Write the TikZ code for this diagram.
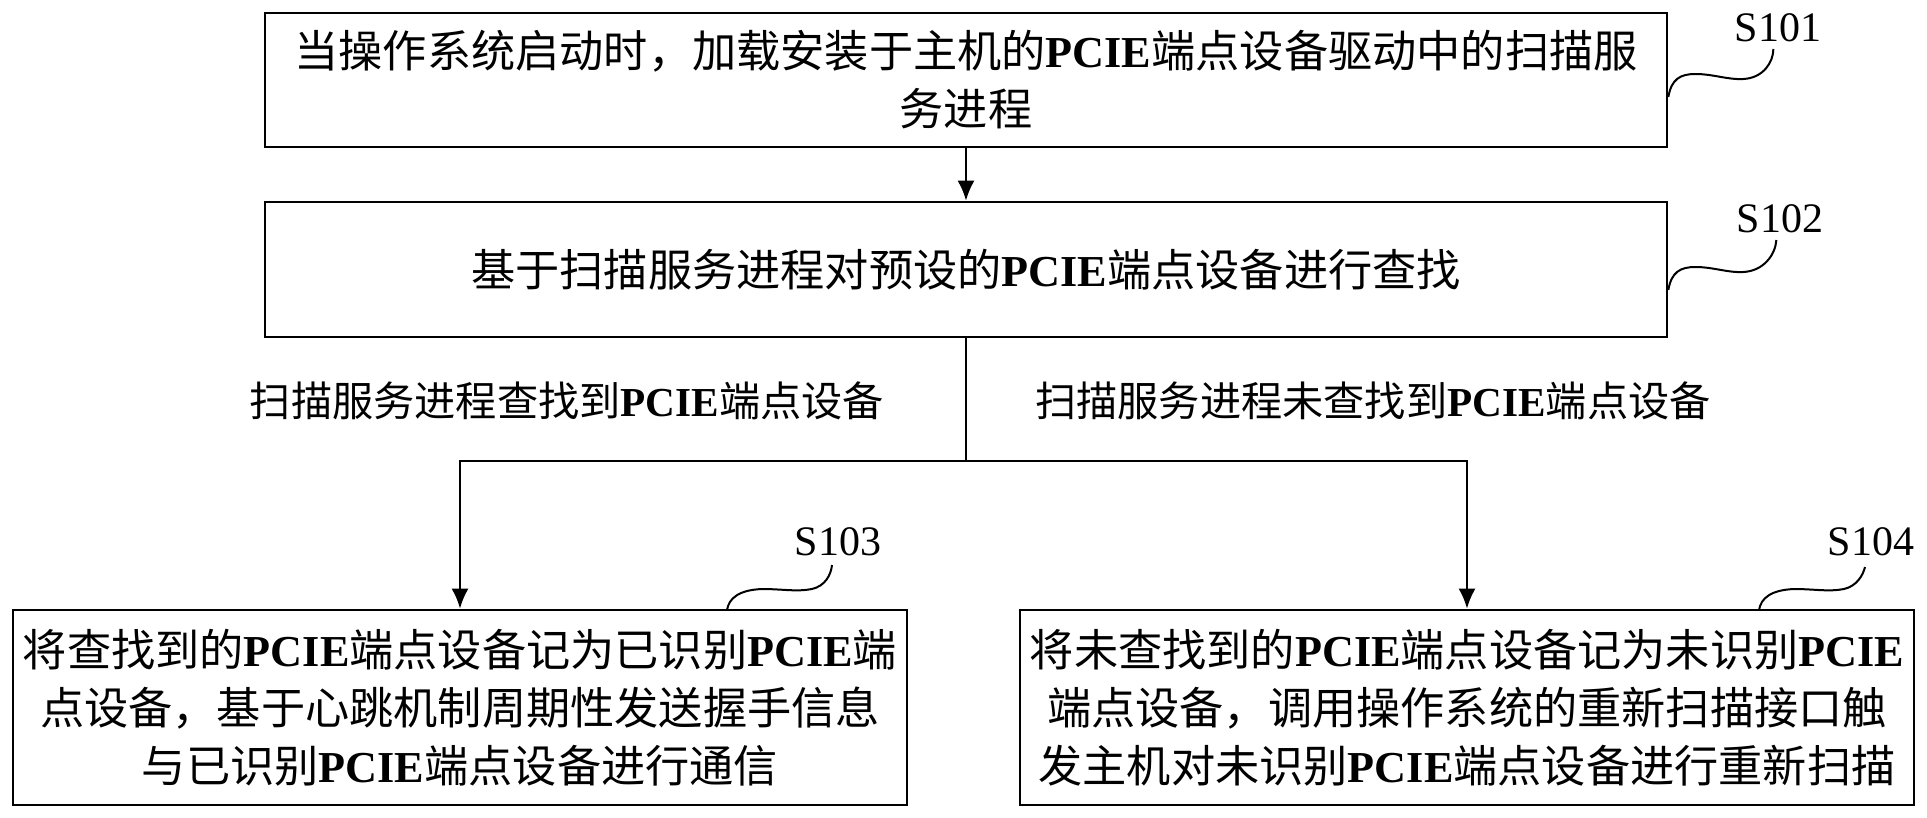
\documentclass[tikz,border=0pt]{standalone}
\usepackage{fontspec}
\setmainfont{Liberation Serif}
\newfontfamily\cjkfont{Noto Sans CJK SC}
\usetikzlibrary{arrows.meta}
\newcommand\pcie{{\rmfamily\bfseries PCIE}}
\tikzset{
  stepbox/.style={draw, line width=2.7pt, inner sep=0pt, align=center,
    font=\cjkfont\fontsize{44.2}{58}\selectfont},
  condlabel/.style={inner sep=0pt, font=\cjkfont\fontsize{41.2}{50}\selectfont},
  steplabel/.style={inner sep=0pt, font=\fontsize{42}{50}\selectfont},
  conn/.style={line width=2.2pt},
  arr/.style={line width=2.2pt, -{Latex[length=20pt,width=17pt]}},
  squig/.style={line width=2pt},
}
\begin{document}
\begin{tikzpicture}[x=1pt,y=-1pt]
\useasboundingbox (0,0) rectangle (1927,817);
% boxes
\node[stepbox, minimum width=1402pt, minimum height=134pt] (b1) at (966,80)
  {当操作系统启动时，加载安装于主机的\pcie 端点设备驱动中的扫描服\\务进程};
\node[stepbox, minimum width=1402pt, minimum height=135pt] (b2) at (966,269.5)
  {基于扫描服务进程对预设的\pcie 端点设备进行查找};
\node[stepbox, minimum width=894pt, minimum height=195pt] (b3) at (460,707.5)
  {将查找到的\pcie 端点设备记为已识别\pcie 端\\点设备，基于心跳机制周期性发送握手信息\\与已识别\pcie 端点设备进行通信};
\node[stepbox, minimum width=894pt, minimum height=195pt] (b4) at (1467,707.5)
  {将未查找到的\pcie 端点设备记为未识别\pcie\\端点设备，调用操作系统的重新扫描接口触\\发主机对未识别\pcie 端点设备进行重新扫描};
% condition labels
\node[condlabel] (c1) at (567,401) {扫描服务进程查找到\pcie 端点设备};
\node[condlabel] (c2) at (1373,401) {扫描服务进程未查找到\pcie 端点设备};
% step labels
\node[steplabel] (l1) at (1778,28) {S101};
\node[steplabel] (l2) at (1780,219) {S102};
\node[steplabel] (l3) at (838,542) {S103};
\node[steplabel] (l4) at (1871,542) {S104};
% connectors
\coordinate (j) at (966,461);
\draw[arr] (b1) -- (b2);
\draw[conn] (b2) -- (j);
\draw[arr] (j) -| (b3);
\draw[arr] (j) -| (b4);
% squiggles
\coordinate (s1) at (b1.east |- 0,97);
\coordinate (s2) at (b2.east |- 0,290);
\coordinate (s3) at (727,610);
\coordinate (s4) at (1759,610);
\draw[squig, shift={(s1)}] (0,0) .. controls (3,-18) and (12,-23) .. (27,-23)
  .. controls (45,-23) and (60,-17) .. (75,-18) .. controls (95,-19) and (105,-35) .. (105,-48);
\draw[squig, shift={(s2)}] (0,0) .. controls (3,-18) and (12,-23) .. (27,-23)
  .. controls (45,-23) and (60,-17) .. (75,-18) .. controls (95,-19) and (107,-35) .. (108,-50);
\draw[squig, shift={(s3)}] (0,0) .. controls (2,-12) and (12,-20) .. (35,-21)
  .. controls (55,-21) and (70,-18) .. (85,-21) .. controls (98,-24) and (104,-35) .. (105,-45);
\draw[squig, shift={(s4)}] (0,0) .. controls (2,-12) and (12,-20) .. (35,-21)
  .. controls (55,-21) and (70,-18) .. (85,-21) .. controls (98,-24) and (104,-35) .. (106,-43);
\end{tikzpicture}
\end{document}
